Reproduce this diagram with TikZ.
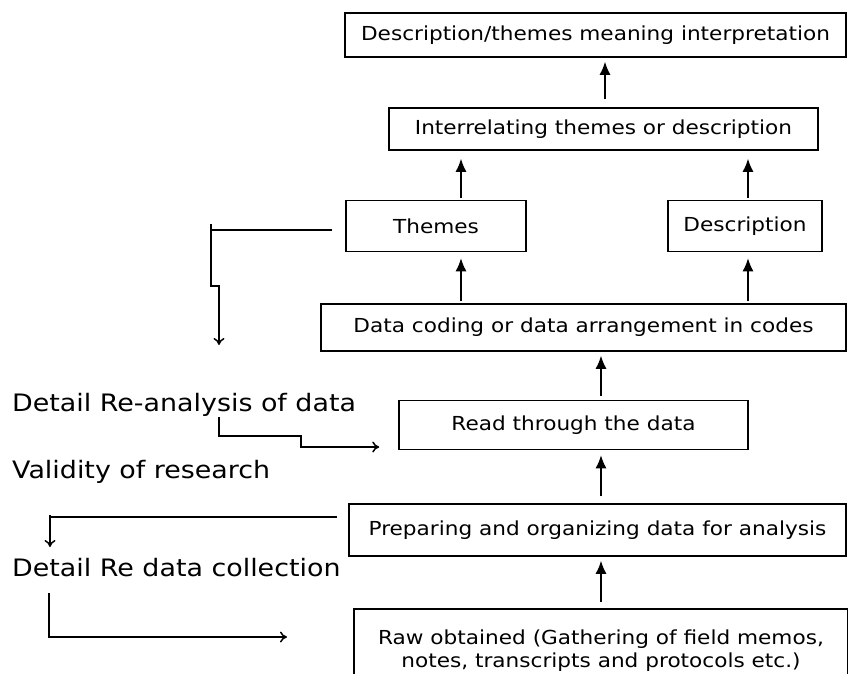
\documentclass[tikz,border=0pt]{standalone}
\usepackage{fontspec}
\setmainfont{DejaVu Sans}
\newfontfamily\widefont[FakeStretch=1.12]{DejaVu Sans}
\usetikzlibrary{arrows.meta,calc}
\begin{document}
\begin{tikzpicture}[x=1pt,y=-1pt,
  box/.style={draw=black,line width=1.5pt,rectangle,inner sep=0pt,
    font=\widefont\fontsize{19.3}{23}\selectfont,align=center},
  up/.style={line width=1.5pt,-{Latex[length=13pt,width=11pt]}},
  side/.style={line width=1.5pt,-{To[length=7pt,width=11pt]}},
  lbl/.style={anchor=base west,inner sep=0pt,font=\widefont\fontsize{24}{28}\selectfont}]
\clip (0,0) rectangle (848,673);
\fill[white] (0,0) rectangle (848,673);
% boxes
\node[box,minimum width=501pt,minimum height=44pt] (top) at (595.5,35) {Description/themes meaning interpretation};
\node[box,minimum width=429pt,minimum height=42pt] (inter) at (603.5,129) {Interrelating themes or description};
\node[box,minimum width=180pt,minimum height=51pt] (themes) at (436,226) {Themes};
\node[box,minimum width=154pt,minimum height=51pt] (descr) at (745,226) {Description};
\node[box,minimum width=525pt,minimum height=47pt] (coding) at (583.5,327.5) {Data coding or data arrangement in codes};
\node[box,minimum width=349pt,minimum height=49pt] (read) at (573.5,425) {Read through the data};
\node[box,minimum width=497pt,minimum height=52pt] (prep) at (597.5,530) {Preparing and organizing data for analysis};
\node[box,anchor=north,minimum width=494pt,minimum height=84pt] (raw) at (601,608) {Raw obtained (Gathering of field memos,\\notes, transcripts and protocols etc.)};
% left labels
\node[lbl] (lab1) at (12,411) {Detail Re-analysis of data};
\node[lbl] (lab2) at (12,478) {Validity of research};
\node[lbl] (lab3) at (12,576) {Detail Re data collection};
% helper x positions
\coordinate (xa) at (605,0);
\coordinate (xb) at (461,0);
\coordinate (xc) at (748,0);
\coordinate (xd) at (601,0);
% upward arrows
\draw[up,shorten <=8pt,shorten >=4pt] (xa |- inter.north) -- (xa |- top.south);
\draw[up,shorten <=2pt,shorten >=8pt] (xb |- themes.north) -- (xb |- inter.south);
\draw[up,shorten <=2pt,shorten >=8pt] (xc |- descr.north) -- (xc |- inter.south);
\draw[up,shorten <=2pt,shorten >=6pt] (xb |- coding.north) -- (xb |- themes.south);
\draw[up,shorten <=2pt,shorten >=6pt] (xc |- coding.north) -- (xc |- descr.south);
\draw[up,shorten <=4pt,shorten >=4pt] (xd |- read.north) -- (xd |- coding.south);
\draw[up,shorten <=7pt,shorten >=5pt] (xd |- prep.north) -- (xd |- read.south);
\draw[up,shorten <=6pt,shorten >=4pt] (xd |- raw.north) -- (xd |- prep.south);
% left-side connectors
\coordinate (t1) at (219,345);
\draw[line width=1.5pt] ($(themes.west)+(-13,4)$) -- (211,230);
\draw[side] (211,224) -- (211,286) -- (219,286) -- (t1);
\coordinate (s2) at (219,417);
\draw[side] (s2) -- (219,436) -- (301,436) -- (301,447) -- ($(read.west |- 0,447)+(-19,0)$);
\coordinate (t3) at (50,547);
\draw[line width=1.5pt] ($(prep.west)+(-11,-13)$) -- (50,517);
\draw[side] (50,515) -- (t3);
\coordinate (s4) at (49,593);
\coordinate (t4) at (287,637);
\draw[side] (s4) -- (49,637) -- (t4);
\end{tikzpicture}
\end{document}
